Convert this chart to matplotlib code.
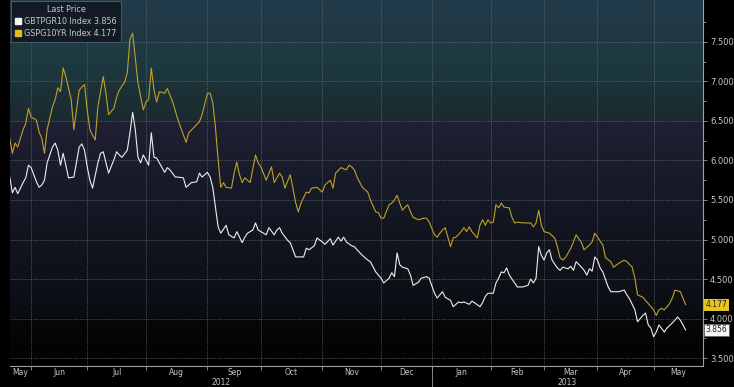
import numpy as np
import pandas as pd
import matplotlib
matplotlib.use('Agg')
import matplotlib.pyplot as plt
import matplotlib.transforms as mtrans
from matplotlib.ticker import FixedLocator, FormatStrFormatter, NullFormatter
from matplotlib.lines import Line2D
from matplotlib.colors import to_rgb

# trading calendar (session 0 = 2012-05-21)
holidays = ['2012-12-25', '2012-12-26', '2013-01-01', '2013-03-29', '2013-04-01']
sessions = pd.bdate_range('2012-05-21', '2013-06-14').drop(pd.to_datetime(holidays))

# GSPG10YR Index (Spain 10y yield), session number -> value
gsp_session = [1, 2, 3, 4, 6, 7, 8, 9, 11, 12, 13, 14, 15, 17, 18, 19, 20, 21, 22, 24,
               25, 27, 28, 29, 30, 31, 32, 33, 34, 36, 37, 38, 40, 41, 42, 44, 45, 46, 47, 48,
               49, 51, 52, 53, 54, 55, 56, 57, 59, 60, 62, 64, 67, 68, 70, 72, 73, 75, 76, 77,
               78, 79, 80, 81, 82, 84, 85, 86, 87, 88, 89, 91, 93, 94, 95, 97, 99, 100, 102, 103,
               104, 106, 107, 108, 109, 110, 112, 113, 114, 116, 118, 119, 121, 122, 123, 125, 127, 128, 129, 130,
               131, 133, 135, 136, 138, 139, 140, 141, 143, 144, 145, 146, 147, 148, 149, 150, 151, 152, 154, 156,
               157, 158, 160, 161, 162, 163, 164, 165, 166, 167, 168, 170, 171, 172, 173, 174, 176, 177, 178, 179,
               180, 181, 182, 183, 184, 185, 186, 188, 189, 190, 191, 193, 195, 196, 197, 198, 199, 200, 201, 203,
               205, 206, 207, 208, 209, 211, 212, 213, 215, 216, 218, 219, 220, 221, 223, 224, 226, 227, 229, 231,
               232, 234, 235, 236, 238, 239, 241, 242, 243, 244, 245, 246, 248, 249, 250, 252, 253, 254]
gsp_val = [6.28, 6.09, 6.22, 6.17, 6.39, 6.47, 6.66, 6.55, 6.51, 6.36, 6.28, 6.09, 6.39, 6.68, 6.77, 6.92, 6.87, 7.17, 7.06, 6.77,
           6.39, 6.89, 6.93, 6.96, 6.64, 6.39, 6.32, 6.26, 6.68, 7.06, 6.85, 6.58, 6.66, 6.80, 6.89, 6.99, 7.11, 7.53, 7.61, 7.30,
           6.98, 6.64, 6.74, 6.77, 7.17, 6.89, 6.74, 6.87, 6.85, 6.91, 6.74, 6.51, 6.23, 6.35, 6.42, 6.49, 6.58, 6.85, 6.85, 6.73,
           6.42, 6.01, 5.66, 5.72, 5.66, 5.65, 5.84, 5.98, 5.82, 5.72, 5.78, 5.72, 6.07, 5.97, 5.92, 5.75, 5.92, 5.72, 5.84, 5.79,
           5.65, 5.82, 5.65, 5.47, 5.35, 5.46, 5.60, 5.59, 5.65, 5.66, 5.60, 5.69, 5.75, 5.65, 5.84, 5.91, 5.88, 5.94, 5.92, 5.88,
           5.79, 5.66, 5.60, 5.50, 5.35, 5.34, 5.27, 5.27, 5.44, 5.46, 5.50, 5.56, 5.46, 5.37, 5.41, 5.44, 5.35, 5.28, 5.25, 5.27,
           5.27, 5.22, 5.06, 5.03, 5.08, 5.12, 5.15, 5.03, 4.91, 5.02, 5.03, 5.10, 5.15, 5.10, 5.16, 5.10, 5.02, 5.18, 5.25, 5.18,
           5.25, 5.21, 5.22, 5.44, 5.40, 5.46, 5.41, 5.40, 5.28, 5.21, 5.22, 5.21, 5.21, 5.21, 5.16, 5.21, 5.37, 5.18, 5.10, 5.08,
           5.02, 4.91, 4.77, 4.74, 4.77, 4.89, 4.97, 5.06, 4.96, 4.87, 4.93, 4.97, 5.08, 5.03, 4.93, 4.77, 4.72, 4.65, 4.70, 4.74,
           4.72, 4.65, 4.51, 4.30, 4.27, 4.23, 4.15, 4.11, 4.04, 4.11, 4.13, 4.11, 4.19, 4.26, 4.36, 4.34, 4.26, 4.177]

# GBTPGR10 Index (Italy 10y yield), session number -> value
btp_session = [1, 2, 3, 4, 6, 7, 8, 9, 11, 12, 13, 14, 15, 17, 18, 19, 20, 21, 22, 23,
               25, 27, 28, 29, 30, 31, 32, 34, 35, 36, 38, 40, 41, 42, 43, 45, 46, 47, 48, 49,
               50, 51, 53, 54, 55, 56, 57, 59, 60, 61, 63, 64, 66, 67, 69, 71, 72, 73, 75, 76,
               77, 78, 79, 80, 82, 83, 85, 86, 88, 89, 90, 92, 93, 94, 95, 97, 98, 100, 101, 102,
               103, 105, 106, 108, 110, 111, 112, 113, 115, 116, 118, 119, 121, 122, 124, 125, 126, 127, 129, 130,
               131, 133, 135, 136, 138, 140, 141, 143, 144, 145, 146, 147, 148, 150, 151, 152, 154, 155, 157, 158,
               160, 161, 162, 163, 164, 166, 167, 169, 170, 171, 173, 174, 175, 177, 178, 179, 180, 182, 183, 184,
               185, 186, 187, 188, 190, 191, 193, 195, 196, 197, 198, 199, 200, 201, 202, 203, 204, 206, 207, 208,
               210, 211, 212, 213, 215, 216, 217, 218, 219, 220, 221, 222, 223, 225, 226, 228, 229, 231, 232, 233,
               235, 236, 238, 239, 240, 241, 242, 243, 244, 246, 247, 248, 250, 251, 252, 253, 254]
btp_val = [5.79, 5.59, 5.66, 5.58, 5.72, 5.78, 5.94, 5.91, 5.73, 5.66, 5.69, 5.75, 5.97, 6.17, 6.22, 6.13, 5.94, 6.09, 5.94, 5.78,
           5.79, 6.17, 6.21, 6.13, 5.92, 5.75, 5.65, 5.97, 6.09, 6.11, 5.84, 6.01, 6.11, 6.07, 6.04, 6.13, 6.35, 6.61, 6.39, 6.04,
           5.97, 6.07, 5.94, 6.35, 6.04, 6.03, 5.97, 5.85, 5.91, 5.88, 5.79, 5.79, 5.78, 5.66, 5.72, 5.73, 5.84, 5.79, 5.85, 5.79,
           5.66, 5.41, 5.16, 5.08, 5.18, 5.06, 5.02, 5.10, 4.96, 5.03, 5.08, 5.12, 5.21, 5.12, 5.10, 5.06, 5.15, 5.06, 5.12, 5.15,
           5.08, 4.99, 4.96, 4.78, 4.78, 4.78, 4.89, 4.87, 4.92, 5.02, 4.97, 4.94, 5.01, 4.93, 5.03, 4.98, 5.03, 4.97, 4.92, 4.91,
           4.87, 4.80, 4.74, 4.72, 4.59, 4.51, 4.45, 4.51, 4.58, 4.53, 4.83, 4.68, 4.65, 4.63, 4.55, 4.42, 4.46, 4.51, 4.53, 4.51,
           4.32, 4.26, 4.30, 4.34, 4.27, 4.23, 4.15, 4.21, 4.20, 4.21, 4.18, 4.22, 4.20, 4.15, 4.20, 4.28, 4.32, 4.32, 4.45, 4.51,
           4.59, 4.58, 4.64, 4.55, 4.45, 4.40, 4.40, 4.42, 4.50, 4.45, 4.51, 4.91, 4.80, 4.74, 4.83, 4.87, 4.74, 4.64, 4.61, 4.65,
           4.63, 4.66, 4.61, 4.72, 4.65, 4.61, 4.55, 4.63, 4.60, 4.78, 4.74, 4.64, 4.59, 4.40, 4.34, 4.34, 4.34, 4.36, 4.30, 4.25,
           4.11, 3.96, 4.04, 4.07, 3.92, 3.88, 3.77, 3.83, 3.92, 3.83, 3.88, 3.91, 3.98, 4.02, 3.98, 3.92, 3.856]

BG = '#000000'
YELLOW = '#bfa02c'
GRID = '#75828a'
TXT = '#c8c8c8'

fig = plt.figure(figsize=(7.34, 3.87), dpi=100, facecolor=BG)
ax = fig.add_axes([10 / 734, 21 / 387, 693 / 734, 366 / 387])

xlo, xhi = 1.1, 260.5
ylo, yhi = 3.40, 8.03
ax.set_xlim(xlo, xhi)
ax.set_ylim(ylo, yhi)

# banded background, lighter at top of each band
bands = [(3.40, 3.5, '#000000', '#000000'),
         (3.5, 4.0, '#060709', '#030304'),
         (4.0, 4.5, '#0e1118', '#0a0c12'),
         (4.5, 5.0, '#12151e', '#0e1118'),
         (5.0, 5.5, '#151925', '#11141e'),
         (5.5, 6.0, '#1a1d2c', '#151825'),
         (6.0, 6.5, '#1f2033', '#1a1b2b'),
         (6.5, 7.0, '#1c3338', '#1a2a30'),
         (7.0, 7.5, '#1f3c44', '#1c353c'),
         (7.5, 8.03, '#233c4b', '#1f3742')]
yy = np.linspace(ylo, yhi, 800)
img = np.zeros((len(yy), 1, 3))
for b0, b1, ctop, cbot in bands:
    m = (yy >= b0) & (yy <= b1)
    t = ((yy[m] - b0) / (b1 - b0))[:, None]
    img[m, 0, :] = np.array(to_rgb(cbot)) * (1 - t) + np.array(to_rgb(ctop)) * t
ax.imshow(img, extent=[xlo, xhi, ylo, yhi], origin='lower', aspect='auto', zorder=0, interpolation='nearest')

ax.plot(btp_session, btp_val, color='#eeeeee', lw=0.8, zorder=3)
ax.plot(gsp_session, gsp_val, color=YELLOW, lw=0.8, zorder=3)

# month boundaries = first session of each month
month_first = pd.Series(np.arange(len(sessions)), index=sessions).groupby(sessions.to_period('M')).first()
bounds = [i for i in month_first.values if xlo < i < xhi]
edges = [xlo] + bounds + [xhi]
centers = [(a + b) / 2 for a, b in zip(edges[:-1], edges[1:])]
labels = ['May', 'Jun', 'Jul', 'Aug', 'Sep', 'Oct', 'Nov', 'Dec', 'Jan', 'Feb', 'Mar', 'Apr', 'May']

ax.xaxis.set_major_locator(FixedLocator(bounds))
ax.xaxis.set_major_formatter(NullFormatter())
ax.xaxis.set_minor_locator(FixedLocator(centers))
ax.set_xticklabels(labels, minor=True)
ax.tick_params(axis='x', which='major', length=3, color='#9a9a9a', width=0.6)
ax.tick_params(axis='x', which='minor', length=0, labelsize=5.5, labelcolor=TXT, pad=1.5)

ax.yaxis.tick_right()
ax.yaxis.set_major_locator(FixedLocator(np.arange(3.5, 7.51, 0.5)))
ax.yaxis.set_minor_locator(FixedLocator(np.arange(3.75, 7.8, 0.5)))
ax.yaxis.set_major_formatter(FormatStrFormatter('%.3f'))
ax.tick_params(axis='y', which='major', length=3, width=0.6, color='#9a9a9a', labelsize=6, labelcolor=TXT, pad=2)
ax.tick_params(axis='y', which='minor', length=2, width=0.6, color='#9a9a9a')

ax.grid(which='major', axis='both', color=GRID, lw=0.5, ls=(0, (1, 1.5)), zorder=1)
ax.set_axisbelow(False)
for s in ['left', 'top']:
    ax.spines[s].set_visible(False)
for s in ['right', 'bottom']:
    ax.spines[s].set_color('#a0a0a0')
    ax.spines[s].set_linewidth(0.8)

# year labels and separator
jan = month_first[pd.Period('2013-01', 'M')]
trans = mtrans.blended_transform_factory(ax.transData, ax.transAxes)
ax.plot([jan, jan], [0, -0.06], transform=trans, color='#9a9a9a', lw=0.6, clip_on=False)
ax.text((xlo + jan) / 2, -0.045, '2012', transform=trans, ha='center', va='center', fontsize=5.5, color=TXT)
ax.text((jan + xhi) / 2, -0.045, '2013', transform=trans, ha='center', va='center', fontsize=5.5, color=TXT)

# last value tags
ytrans = mtrans.blended_transform_factory(ax.transAxes, ax.transData)
ax.text(1.004, gsp_val[-1], f'{gsp_val[-1]:.3f}', transform=ytrans, ha='left', va='center', fontsize=5.5,
        color='#202020', bbox=dict(boxstyle='square,pad=0.2', fc='#e6c41e', ec='none'), zorder=5)
ax.text(1.004, btp_val[-1], f'{btp_val[-1]:.3f}', transform=ytrans, ha='left', va='center', fontsize=5.5,
        color='#202020', bbox=dict(boxstyle='square,pad=0.2', fc='#f4f4f4', ec='#606060', lw=0.5), zorder=5)

handles = [Line2D([], [], ls='', marker='s', ms=5, mfc='#f4f4f4', mec='#f4f4f4'),
           Line2D([], [], ls='', marker='s', ms=5, mfc='#e0bc1c', mec='#e0bc1c')]
leg = ax.legend(handles, [f'GBTPGR10 Index {btp_val[-1]:.3f}', f'GSPG10YR Index {gsp_val[-1]:.3f}'],
                title='Last Price', loc='upper left', bbox_to_anchor=(0, 1), fontsize=5.8, title_fontsize=5.8,
                labelcolor=TXT, facecolor='#121a22', edgecolor='#56646c', framealpha=0.95, fancybox=False,
                handlelength=0.8, handletextpad=0.3, borderpad=0.5, labelspacing=0.35, borderaxespad=0.15)
leg.get_title().set_color(TXT)
leg.get_frame().set_linewidth(0.6)
leg.set_zorder(6)

fig.savefig('out.png', dpi=100, facecolor=BG)
